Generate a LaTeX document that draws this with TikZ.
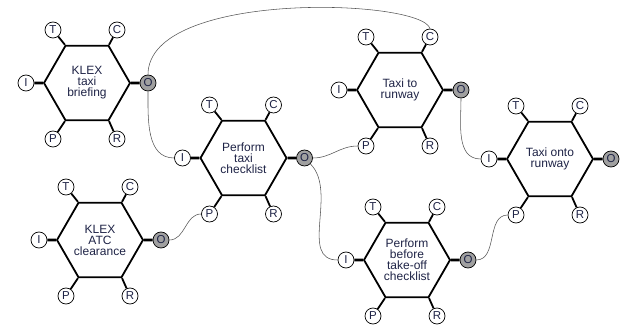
\documentclass[tikz,border=0pt]{standalone}
\usepackage{fontspec}
\setmainfont{Liberation Sans}
\usetikzlibrary{shapes.geometric,positioning}

\definecolor{ink}{RGB}{30,35,70}
\definecolor{outgray}{RGB}{160,160,160}
\definecolor{linkgray}{RGB}{85,85,85}

\tikzset{
  func/.style={regular polygon, regular polygon sides=6, draw, line width=1.8pt,
    minimum size=86pt, inner sep=0pt, align=center, text=ink,
    font=\fontsize{12}{11}\selectfont},
  aspect/.style={circle, draw, line width=0.7pt, fill=white, minimum size=16pt,
    inner sep=0pt, text=ink, font=\fontsize{11.5}{11}\selectfont},
  stub/.style={line width=1.8pt},
  link/.style={draw=linkgray, line width=0.55pt}
}

% one FRAM function: name, x, y, label
\newcommand{\fram}[4]{%
  \node[func] (#1) at (#2,#3) {#4};
  \foreach \a/\dx/\dy/\ang in {T/-34/53/120,C/30/53/60,P/-34/-56/240,R/30/-56/300}{
    \node[aspect] (#1-\a) at ([shift={(\dx,\dy)}]#1) {\a};
    \draw[stub] (#1.\ang) -- (#1-\a);
  }
  \node[aspect] (#1-I) at ([shift={(-61,0)}]#1) {I};
  \node[aspect, fill=outgray] (#1-O) at ([shift={(61,0)}]#1) {O};
  \draw[stub, line width=2.8pt] (#1.west) -- (#1-I);
  \draw[stub, line width=2.8pt] (#1.east) -- (#1-O);
}

\begin{document}
\begin{tikzpicture}[x=1pt,y=1pt]
    \useasboundingbox (0,0) rectangle (623,324);

    \fram{brief}{87}{241}{KLEX\\taxi\\briefing}
    \fram{check}{243.5}{166}{Perform\\taxi\\checklist}
    \fram{atc}{100}{84}{KLEX\\ATC\\clearance}
    \fram{taxi}{400}{234}{Taxi to\\runway}
    \fram{onto}{550}{165}{Taxi onto\\runway}
    \fram{before}{407}{64}{Perform\\before\\take-off\\checklist}

    \path[link] (brief-O) to[out=-90,in=180] (check-I);
    \path[link] (brief-O.north) .. controls +(0,85) and +(-8,30) .. (taxi-C.north);
    \path[link] (check-O) to[out=0,in=180] (taxi-P);
    \path[link] (check-O) to[out=-45,in=180] (before-I);
    \path[link] (taxi-O) to[out=-90,in=180] (onto-I);
    \path[link] (atc-O) to[out=0,in=180] (check-P);
    \path[link] (before-O) to[out=0,in=180] (onto-P);
\end{tikzpicture}
\end{document}
